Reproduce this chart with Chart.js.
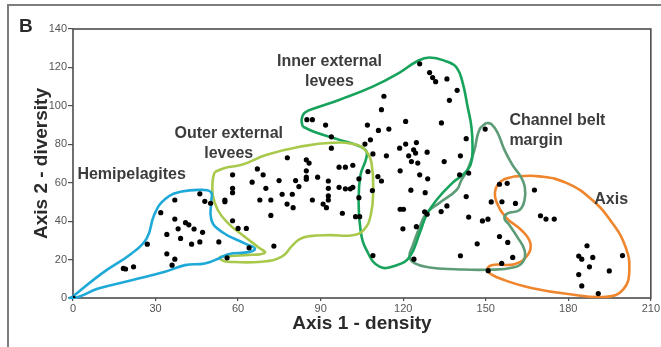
<!DOCTYPE html>
<html>
<head>
<meta charset="utf-8">
<script src="https://cdn.jsdelivr.net/npm/chart.js@4.4.1/dist/chart.umd.min.js"></script>
<style>
  html, body { margin: 0; padding: 0; background: #fff; }
  #wrap { position: relative; width: 661px; height: 347px; overflow: hidden; }
  #wrap canvas { position: absolute; left: 0; top: 0; }
  #frame { position: absolute; left: 7px; top: 4px; right: 0; bottom: 0;
           border-top: 2px solid #7d7d7d; border-left: 2px solid #7d7d7d; pointer-events: none; }
</style>
</head>
<body>
<div id="wrap">
  <canvas id="chart" width="661" height="347"></canvas>
  <div id="frame"></div>
</div>
<script>
// tick values
const xTickValues = [0, 30, 60, 90, 120, 150, 180, 210];
const yTickValues = [0, 20, 40, 60, 80, 100, 120, 140];

// samples, [axis 1 density, axis 2 diversity]
const hemipelagitesPts = [
  [37, 51], [46.1, 54.2], [47.9, 50.3], [50, 49.3], [31.9, 44.4], [37, 41.1], [40.9, 39.2],
  [42.1, 38.1], [38.2, 36], [44, 35.9], [47.1, 34.2], [34.1, 33.1], [39.1, 31], [46.1, 29.2],
  [43.1, 28], [53, 29.2], [27, 28], [34.1, 23], [37, 20.2], [36, 17.1], [18.3, 15.4],
  [19.1, 15.1], [22, 16.2], [64, 26.1], [56, 20.9], [0, 0]
];
const outerLeveesPts = [
  [58, 64.1], [67, 67.2], [69.1, 64.1], [77.9, 73], [84.8, 71.9], [85.8, 70.2], [84.8, 66.2],
  [84.8, 62.9], [84.8, 61.8], [88.9, 62.9], [65.1, 60.3], [74.9, 61.1], [80.9, 61.1], [82.1, 58],
  [70.1, 57.1], [58, 57.1], [58, 54.8], [76, 54], [79.7, 54], [92.8, 60.9], [92.8, 57.1],
  [92.8, 53.1], [92.8, 51], [96.7, 68.1], [99, 68.1], [101.7, 69.1], [96.7, 57.6], [99, 56.8],
  [100.8, 56.8], [101.7, 57.6], [67.9, 51], [71.9, 51], [55.2, 51], [55.2, 50.1], [87, 51],
  [77.8, 48.9], [80, 47], [90.9, 48.9], [92.1, 47], [71.9, 43], [97.9, 44.1], [58, 40.2],
  [60, 36.2], [63, 36.2], [73, 27]
];
const innerLeveesPts = [
  [126, 121.9], [129.6, 117.3], [130.7, 114.7], [131.8, 112.6], [135.9, 114], [139.6, 108.1],
  [136.8, 102.9], [113, 105], [112.1, 98], [85, 92.8], [87, 92.8], [91.8, 90], [107, 90],
  [111, 87.2], [114.8, 87.9], [120.9, 91.9], [133.9, 91.1], [142.9, 82.9], [93.9, 83.9],
  [93.9, 78], [108.1, 82.3], [106.1, 80.1], [109, 75], [113.9, 74], [118.7, 78], [120.9, 80.1],
  [124.8, 80.9], [123.8, 77.1], [124.5, 75.4], [122, 74], [128.7, 75.9], [123, 71], [125.3, 70.2],
  [134.9, 71], [140.8, 74], [107.2, 65.8], [118.9, 66.2], [126, 64.1], [128.9, 62], [110.8, 63.2],
  [112.1, 60.9], [103.9, 62], [122.8, 56.1], [128, 54.8], [108.8, 55.9], [103.9, 52.2],
  [102.7, 42.3], [104.2, 42.3], [118.9, 46.2], [120.1, 46.2], [127.8, 44.9], [128.7, 43.6],
  [119.9, 36], [124.8, 37.1], [109, 22.1], [140.5, 64.1]
];
const channelBeltPts = [
  [149.8, 87.9], [143.8, 65], [142.9, 52.8], [133.8, 45], [135.9, 47.9], [143.8, 42.1],
  [148.8, 40.1], [150.8, 41], [146.9, 28.2], [140.8, 22], [123.9, 20.2], [155, 59.2],
  [157.8, 59.7], [152, 50], [155.9, 50.1], [160.8, 49.2], [155, 32], [158, 28.9], [159.8, 21.1],
  [155.8, 18], [150.9, 14.2]
];
const axisPts = [
  [167.7, 56.2], [169.9, 42.8], [171.9, 41.1], [174.9, 41.1], [186.8, 27.2], [183.8, 21.8],
  [184.9, 20.2], [188.9, 21.1], [199.7, 22.1], [187.7, 16.2], [194.9, 14.1], [183.8, 12.2],
  [184.9, 6.3], [190.9, 2.3]
];

// hand traced envelopes round each group
const hemipelagitesLine = [
  [-0.3, 0.5], [10.4, 12.7], [21.3, 23.2], [26.8, 31], [29.5, 43.2], [33.4, 51.4], [39.5, 55.4],
  [47.9, 56.2], [50.3, 54.8], [50.3, 51], [50.3, 40.6], [54, 34.5], [62.4, 28.4], [66.1, 25.8],
  [64.2, 24], [56.4, 22.8], [53, 20.6], [47.9, 18], [40.7, 17.1], [33.4, 13.6], [21.3, 9.2],
  [9.2, 4.9], [1.9, 0.5], [-1.2, 0]
];
const outerLeveesLine = [
  [51.5, 65.6], [55.2, 67.7], [61.3, 69.3], [70.4, 74.5], [82.4, 78.7], [94.4, 80.8], [103.1, 79.7],
  [106.7, 76.1], [108.5, 70.3], [109.1, 56.2], [108.2, 43.1], [105.6, 35.3], [101.6, 32.7],
  [93.3, 32.7], [86, 32.2], [82.4, 30.7], [79.5, 27], [75.9, 21.5], [68.6, 18.9], [56.3, 18.9],
  [53.9, 19.9], [53.4, 21.3], [56.3, 21.8], [62.4, 22.3], [69.7, 23.5], [67.2, 26.6], [62.4, 31.9],
  [56.3, 39], [52.6, 45.8], [50.8, 53.6], [50.8, 61.5]
];
const innerLeveesLine = [
  [83.5, 89.1], [83.1, 92.8], [84.2, 96.4], [88.6, 99.1], [96.9, 103.2], [108.9, 110], [118.7, 117.3],
  [124.9, 123.1], [129.6, 125.2], [135.8, 123.1], [139.4, 120], [141.6, 112.1], [143.4, 99.6],
  [144.8, 89.1], [145.2, 78.7], [144.5, 69.3], [141.6, 64.1], [137.9, 59.9], [132.1, 51],
  [128.5, 43.2], [126, 33.8], [122.3, 21.3], [117.6, 17.1], [111.4, 16.3], [106.7, 24.9],
  [104.5, 35.4], [103.8, 51], [104.5, 64.1], [106.4, 71.9], [106.7, 76.1], [104.2, 78.9],
  [96.9, 82.3], [88.6, 86]
];
const channelBeltLine = [
  [150.3, 91.2], [152.1, 90.4], [154.3, 86], [156.8, 77.1], [159.7, 69.3], [162.8, 63], [164.2, 57.8],
  [164.1, 51], [162.3, 45.8], [157.9, 44], [156.8, 41.4], [158.6, 38], [161.5, 31.7], [164.1, 24.9],
  [163.7, 19.2], [160.4, 16], [150.6, 14.7], [139, 15], [129.6, 15.9], [124.1, 18.1], [122.3, 21.8],
  [123.4, 27], [126, 36.9], [128.5, 44.2], [133.2, 49.5], [139.4, 56.2], [141.2, 61.5],
  [143.4, 66.7], [145.9, 77.1], [147.7, 87.6]
];
const axisLine = [
  [160.4, 63.3], [169.5, 63.3], [179.3, 59.9], [188.7, 51], [196, 39], [200.7, 27], [202.2, 14.5],
  [200, 4.5], [193.8, 0.6], [179.3, 2.2], [167, 5.1], [156.8, 9.3], [150.6, 14], [152.1, 17.1],
  [160.4, 17.6], [165.2, 22.3], [166.2, 28.6], [162.9, 35.4], [157.2, 42.1], [153.9, 50],
  [153.5, 56.2], [155.7, 60.9]
];

// group names written inside the plot
const groupLabels = [
  { lines: ['Hemipelagites'], x: 1.6, y: 64.3, align: 'left' },
  { lines: ['Outer external', 'levees'], x: 56.6, y: 85.5, align: 'center' },
  { lines: ['Inner external', 'levees'], x: 93.2, y: 122.8, align: 'center' },
  { lines: ['Channel belt', 'margin'], x: 158.6, y: 92.3, align: 'left' },
  { lines: ['Axis'], x: 195.6, y: 51.3, align: 'center' }
];

const toXY = arr => arr.map(p => ({ x: p[0], y: p[1] }));
const closed = arr => toXY(arr.concat([arr[0]]));

const pointSet = (label, pts) => ({
  label, data: toXY(pts), order: 0,
  pointRadius: 2.6, pointBackgroundColor: '#000', pointBorderWidth: 0, showLine: false
});
const outlineSet = (label, pts, color) => ({
  label, data: closed(pts), order: 1,
  showLine: true, borderColor: color, borderWidth: 2.6, tension: 0.45,
  pointRadius: 0, fill: false, clip: false
});

const frameAndLabels = {
  id: 'frameAndLabels',
  beforeDatasetsDraw(chart) {
    const { ctx, chartArea: a } = chart;
    ctx.save();
    ctx.strokeStyle = '#4d4d4d';
    ctx.lineWidth = 1.6;
    ctx.strokeRect(a.left, a.top, a.right - a.left, a.bottom - a.top);
    ctx.restore();
  },
  afterDatasetsDraw(chart) {
    const { ctx } = chart;
    const xs = chart.scales.x, ys = chart.scales.y;
    ctx.save();
    ctx.fillStyle = '#3c3c3c';
    ctx.font = 'bold 16px "Liberation Sans", Arial, sans-serif';
    ctx.textBaseline = 'middle';
    groupLabels.forEach(g => {
      ctx.textAlign = g.align;
      const px = xs.getPixelForValue(g.x);
      const py = ys.getPixelForValue(g.y);
      g.lines.forEach((t, i) => ctx.fillText(t, px, py + i * 20));
    });
    // panel letter
    ctx.fillStyle = '#2b2b2b';
    ctx.font = 'bold 19px "Liberation Sans", Arial, sans-serif';
    ctx.textAlign = 'left';
    ctx.textBaseline = 'alphabetic';
    ctx.fillText('B', 19, 32);
    ctx.restore();
  }
};

const tickFont = { family: '"Liberation Sans", Arial, sans-serif', size: 11 };
const titleFont = { family: '"Liberation Sans", Arial, sans-serif', size: 19, weight: 'bold' };

new Chart(document.getElementById('chart'), {
  type: 'scatter',
  data: {
    datasets: [
      pointSet('Hemipelagites', hemipelagitesPts),
      pointSet('Outer external levees', outerLeveesPts),
      pointSet('Inner external levees', innerLeveesPts),
      pointSet('Channel belt margin', channelBeltPts),
      pointSet('Axis', axisPts),
      outlineSet('Hemipelagites outline', hemipelagitesLine, '#1ea9d8'),
      outlineSet('Outer external levees outline', outerLeveesLine, '#a9c94c'),
      outlineSet('Inner external levees outline', innerLeveesLine, '#17a35c'),
      outlineSet('Channel belt margin outline', channelBeltLine, '#5e9c78'),
      outlineSet('Axis outline', axisLine, '#ef852c')
    ]
  },
  options: {
    responsive: false,
    animation: false,
    devicePixelRatio: 1,
    layout: { padding: { left: 0, right: 10, top: 29, bottom: 0 } },
    plugins: { legend: { display: false }, tooltip: { enabled: false } },
    scales: {
      x: {
        type: 'linear', min: 0, max: 210,
        afterBuildTicks: s => { s.ticks = xTickValues.map(v => ({ value: v })); },
        afterFit: s => { s.height = 49; },
        grid: { drawOnChartArea: false, drawTicks: true, tickLength: 3, color: '#4d4d4d', lineWidth: 1.2 },
        border: { display: false },
        ticks: { font: tickFont, color: '#555', padding: 1, maxRotation: 0 },
        title: { display: true, text: 'Axis 1 - density', font: titleFont, color: '#2b2b2b', padding: { top: 0, bottom: 12 } }
      },
      y: {
        type: 'linear', min: 0, max: 140,
        afterBuildTicks: s => { s.ticks = yTickValues.map(v => ({ value: v })); },
        afterFit: s => { s.width = 73; },
        grid: { drawOnChartArea: false, drawTicks: true, tickLength: 5, color: '#4d4d4d', lineWidth: 1.2 },
        border: { display: false },
        ticks: { font: tickFont, color: '#555', padding: 1 },
        title: { display: true, text: 'Axis 2 - diversity', font: titleFont, color: '#2b2b2b', padding: { top: 30, bottom: 0 } }
      }
    }
  },
  plugins: [frameAndLabels]
});
</script>
</body>
</html>
